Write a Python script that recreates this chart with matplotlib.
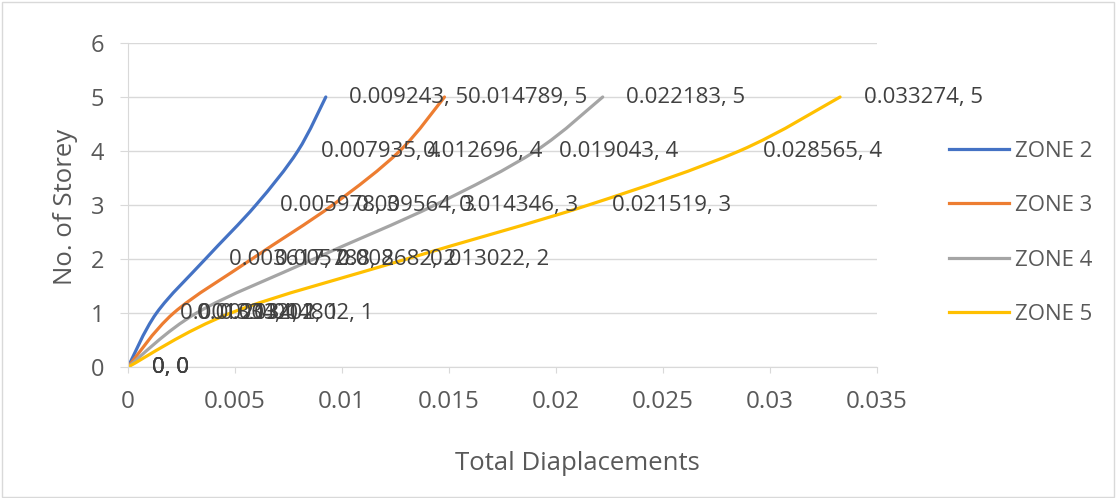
import numpy as np
import matplotlib
matplotlib.use("Agg")
import matplotlib.pyplot as plt
from matplotlib.path import Path
from matplotlib.patches import PathPatch

plt.rcParams['font.family'] = ['Open Sans', 'DejaVu Sans']

# data
storey = [0, 1, 2, 3, 4, 5]
zone2 = [0, 0.001334, 0.003617, 0.005978, 0.007935, 0.009243]
zone3 = [0, 0.002134, 0.005788, 0.009564, 0.012696, 0.014789]
zone4 = [0, 0.003202, 0.008682, 0.014346, 0.019043, 0.022183]
zone5 = [0, 0.004802, 0.013022, 0.021519, 0.028565, 0.033274]
names = ['ZONE 2', 'ZONE 3', 'ZONE 4', 'ZONE 5']
colors = ['#4472C4', '#ED7D31', '#A5A5A5', '#FFC000']
xticks = [0, 0.005, 0.01, 0.015, 0.02, 0.025, 0.03, 0.035]
xticklabels = ['0', '0.005', '0.01', '0.015', '0.02', '0.025', '0.03', '0.035']
txt = '#595959'
grid = '#D9D9D9'
fs = 16


def smooth_path(x, y, t=1/6):
    # excel-like smoothed line: bezier through the points (catmull-rom)
    pts = np.column_stack([x, y])
    verts = [pts[0]]
    codes = [Path.MOVETO]
    n = len(pts)
    for i in range(n - 1):
        p0 = pts[i - 1] if i > 0 else pts[i]
        p1 = pts[i]
        p2 = pts[i + 1]
        p3 = pts[i + 2] if i + 2 < n else pts[i + 1]
        verts += [p1 + (p2 - p0) * t, p2 - (p3 - p1) * t, p2]
        codes += [Path.CURVE4] * 3
    return Path(verts, codes)


fig = plt.figure(figsize=(11.17, 4.98), dpi=100)
ax = fig.add_axes([128/1117, 1 - 367/498, (877-128)/1117, (367-43)/498])

for data, name, c in zip([zone2, zone3, zone4, zone5], names, colors):
    patch = PathPatch(smooth_path(np.array(data), np.array(storey, float)),
                      facecolor='none', edgecolor=c, lw=2.3, capstyle='round')
    ax.add_patch(patch)
    ax.plot([], [], color=c, lw=2.3, label=name)
    for xv, yv in zip(data, storey):
        lab = '{:.6f}, {}'.format(xv, yv) if xv else '0, 0'
        ax.annotate(lab, (xv, yv), xytext=(17, 0), textcoords='offset points',
                    va='center', ha='left', fontsize=fs, color='#404040')

ax.set_xlim(0, 0.035)
ax.set_ylim(0, 6)
ax.set_xticks(xticks)
ax.set_xticklabels(xticklabels)
ax.set_yticks(range(7))
ax.grid(axis='y', color=grid, lw=1)
ax.set_axisbelow(True)
for s in ['top', 'right']:
    ax.spines[s].set_visible(False)
ax.spines['bottom'].set_color(grid)
ax.spines['left'].set_color(grid)
ax.tick_params(axis='y', length=6, color=grid, labelsize=17, labelcolor=txt, pad=11)
ax.tick_params(axis='x', length=4.5, color=grid, labelsize=17.5, labelcolor=txt, pad=12)

# axis titles placed like the excel chart (x title not centred on the plot)
fig.text(577/1117, 1 - 463/498, 'Total Diaplacements', fontsize=18.5, color=txt,
         ha='center', va='center')
fig.text(65/1117, 1 - 207/498, 'No. of Storey', fontsize=18.5, color=txt,
         ha='center', va='center', rotation=90)

leg = ax.legend(loc='center left', bbox_to_anchor=(1.069, 0.414), frameon=False,
                fontsize=fs, labelspacing=1.5, handlelength=2.7, handletextpad=0.3)
for t in leg.get_texts():
    t.set_color(txt)

fig.patches.append(plt.Rectangle((0.002, 0.003), 0.995, 0.993, transform=fig.transFigure,
                                 fill=False, edgecolor=grid, lw=1))
fig.savefig('out.png', dpi=100)
